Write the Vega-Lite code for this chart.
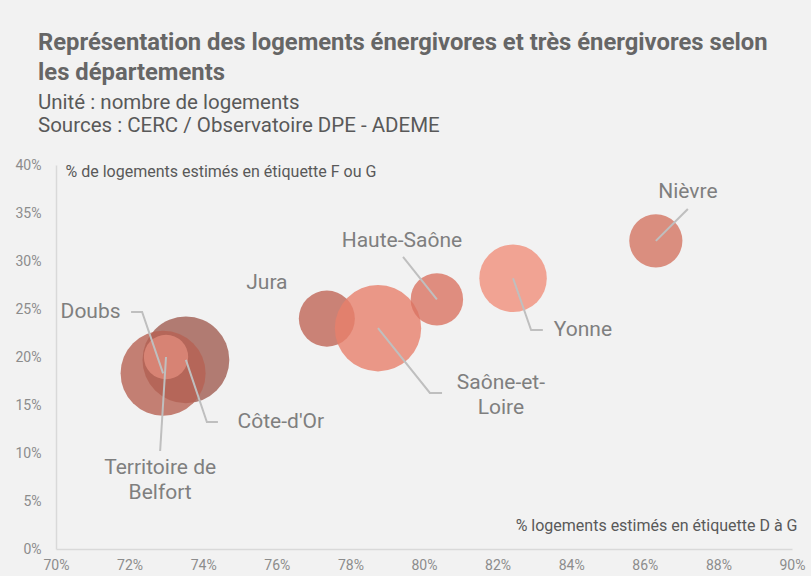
{
  "$schema": "https://vega.github.io/schema/vega-lite/v6.json",
  "width": 736,
  "height": 384,
  "autosize": {"type": "none"},
  "padding": {"left": 56, "top": 165, "right": 19, "bottom": 27},
  "background": "#f2f2f2",
  "config": {
    "view": {"stroke": null},
    "font": "Roboto",
    "axis": {"labelFont": "Roboto", "titleFont": "Roboto"}
  },
  "title": {
    "text": ["Représentation des logements énergivores et très énergivores selon", "les départements"],
    "subtitle": ["Unité : nombre de logements", "Sources : CERC / Observatoire DPE - ADEME"],
    "anchor": "start",
    "frame": "group",
    "dx": -18,
    "offset": 22,
    "font": "Roboto",
    "fontSize": 23.8,
    "fontWeight": "bold",
    "color": "#666666",
    "lineHeight": 30,
    "subtitleFont": "Roboto",
    "subtitleFontSize": 20.5,
    "subtitleColor": "#595959",
    "subtitleLineHeight": 23,
    "subtitlePadding": 8
  },
  "datasets": {
    "bulles": [
      {"departement": "Côte-d'Or", "part_D_G": 0.7353, "part_F_G": 0.197, "logements": 96000},
      {"departement": "Doubs", "part_D_G": 0.7291, "part_F_G": 0.183, "logements": 92000},
      {"departement": "Jura", "part_D_G": 0.7736, "part_F_G": 0.24, "logements": 40000},
      {"departement": "Saône-et-Loire", "part_D_G": 0.7875, "part_F_G": 0.23, "logements": 95000},
      {"departement": "Haute-Saône", "part_D_G": 0.8035, "part_F_G": 0.26, "logements": 35000},
      {"departement": "Yonne", "part_D_G": 0.8242, "part_F_G": 0.282, "logements": 58000},
      {"departement": "Nièvre", "part_D_G": 0.863, "part_F_G": 0.321, "logements": 36000},
      {"departement": "Territoire de Belfort", "part_D_G": 0.7299, "part_F_G": 0.20, "logements": 25000}
    ],
    "reperes": [
      {"departement": "Nièvre", "ordre": 1, "x": 0.8717, "y": 0.3542},
      {"departement": "Nièvre", "ordre": 2, "x": 0.863, "y": 0.321},
      {"departement": "Yonne", "ordre": 1, "x": 0.8323, "y": 0.2281},
      {"departement": "Yonne", "ordre": 2, "x": 0.8291, "y": 0.2281},
      {"departement": "Yonne", "ordre": 3, "x": 0.8242, "y": 0.282},
      {"departement": "Haute-Saône", "ordre": 1, "x": 0.7943, "y": 0.3042},
      {"departement": "Haute-Saône", "ordre": 2, "x": 0.8035, "y": 0.26},
      {"departement": "Saône-et-Loire", "ordre": 1, "x": 0.8049, "y": 0.1625},
      {"departement": "Saône-et-Loire", "ordre": 2, "x": 0.8016, "y": 0.1625},
      {"departement": "Saône-et-Loire", "ordre": 3, "x": 0.7875, "y": 0.23},
      {"departement": "Doubs", "ordre": 1, "x": 0.7204, "y": 0.2469},
      {"departement": "Doubs", "ordre": 2, "x": 0.7234, "y": 0.2469},
      {"departement": "Doubs", "ordre": 3, "x": 0.7291, "y": 0.183},
      {"departement": "Côte-d'Or", "ordre": 1, "x": 0.744, "y": 0.1323},
      {"departement": "Côte-d'Or", "ordre": 2, "x": 0.741, "y": 0.1323},
      {"departement": "Côte-d'Or", "ordre": 3, "x": 0.7353, "y": 0.197},
      {"departement": "Territoire de Belfort", "ordre": 1, "x": 0.7283, "y": 0.1021},
      {"departement": "Territoire de Belfort", "ordre": 2, "x": 0.7299, "y": 0.20}
    ],
    "etiquettes": [
      {"texte": "Nièvre", "x": 0.8717, "y": 0.3719},
      {"texte": "Yonne", "x": 0.8432, "y": 0.2281},
      {"texte": "Haute-Saône", "x": 0.794, "y": 0.3208},
      {"texte": "Saône-et-\nLoire", "x": 0.8209, "y": 0.1729},
      {"texte": "Jura", "x": 0.7573, "y": 0.2771},
      {"texte": "Doubs", "x": 0.7094, "y": 0.2469},
      {"texte": "Côte-d'Or", "x": 0.7611, "y": 0.1323},
      {"texte": "Territoire de\nBelfort", "x": 0.7283, "y": 0.0844}
    ]
  },
  "layer": [
    {
      "data": {"name": "bulles"},
      "mark": {"type": "circle", "strokeWidth": 0},
      "encoding": {
        "x": {
          "field": "part_D_G", "type": "quantitative",
          "scale": {"domain": [0.7, 0.9], "nice": false, "zero": false},
          "axis": {
            "values": [0.7, 0.72, 0.74, 0.76, 0.78, 0.8, 0.82, 0.84, 0.86, 0.88, 0.9],
            "format": ".0%",
            "grid": false, "ticks": false,
            "domainColor": "#d9d9d9", "domainWidth": 1.5,
            "labelColor": "#8c8c8c", "labelFontSize": 14, "labelPadding": 9, "labelFlush": false,
            "title": "% logements estimés en étiquette D à G",
            "titleFontSize": 16, "titleFontWeight": "normal", "titleColor": "#595959",
            "titleAngle": 0, "titleAlign": "right", "titleBaseline": "middle",
            "titleX": 741, "titleY": -24
          }
        },
        "y": {
          "field": "part_F_G", "type": "quantitative",
          "scale": {"domain": [0, 0.4], "nice": false},
          "axis": {
            "values": [0, 0.05, 0.1, 0.15, 0.2, 0.25, 0.3, 0.35, 0.4],
            "format": ".0%",
            "grid": false, "ticks": false,
            "domainColor": "#d9d9d9", "domainWidth": 1.5,
            "labelColor": "#8c8c8c", "labelFontSize": 14, "labelPadding": 15,
            "title": "% de logements estimés en étiquette F ou G",
            "titleFontSize": 16, "titleFontWeight": "normal", "titleColor": "#595959",
            "titleAngle": 0, "titleAlign": "left", "titleBaseline": "middle",
            "titleX": 9, "titleY": 6
          }
        },
        "size": {
          "field": "logements", "type": "quantitative",
          "scale": {"domain": [0, 100000], "range": [0, 7854], "zero": true},
          "legend": null
        },
        "color": {
          "field": "departement", "type": "nominal",
          "scale": {
            "domain": ["Côte-d'Or", "Doubs", "Jura", "Saône-et-Loire", "Haute-Saône", "Yonne", "Nièvre", "Territoire de Belfort"],
            "range": ["#a05d51", "#b66252", "#bf6556", "#e77f6c", "#d97361", "#f08e7a", "#d37461", "#e08b7b"]
          },
          "legend": null
        },
        "opacity": {
          "field": "departement", "type": "nominal",
          "scale": {
            "domain": ["Côte-d'Or", "Doubs", "Jura", "Saône-et-Loire", "Haute-Saône", "Yonne", "Nièvre", "Territoire de Belfort"],
            "range": [0.8, 0.8, 0.8, 0.8, 0.8, 0.8, 0.8, 1]
          },
          "legend": null
        }
      }
    },
    {
      "data": {"name": "reperes"},
      "mark": {"type": "line", "color": "#bfbfbf", "strokeWidth": 2},
      "encoding": {
        "x": {"field": "x", "type": "quantitative"},
        "y": {"field": "y", "type": "quantitative"},
        "detail": {"field": "departement"},
        "order": {"field": "ordre", "type": "quantitative"}
      }
    },
    {
      "data": {"name": "etiquettes"},
      "mark": {"type": "text", "font": "Roboto", "fontSize": 21, "color": "#7f7f7f", "align": "center", "baseline": "middle", "lineBreak": "\n", "lineHeight": 25},
      "encoding": {
        "x": {"field": "x", "type": "quantitative"},
        "y": {"field": "y", "type": "quantitative"},
        "text": {"field": "texte"}
      }
    }
  ]
}
